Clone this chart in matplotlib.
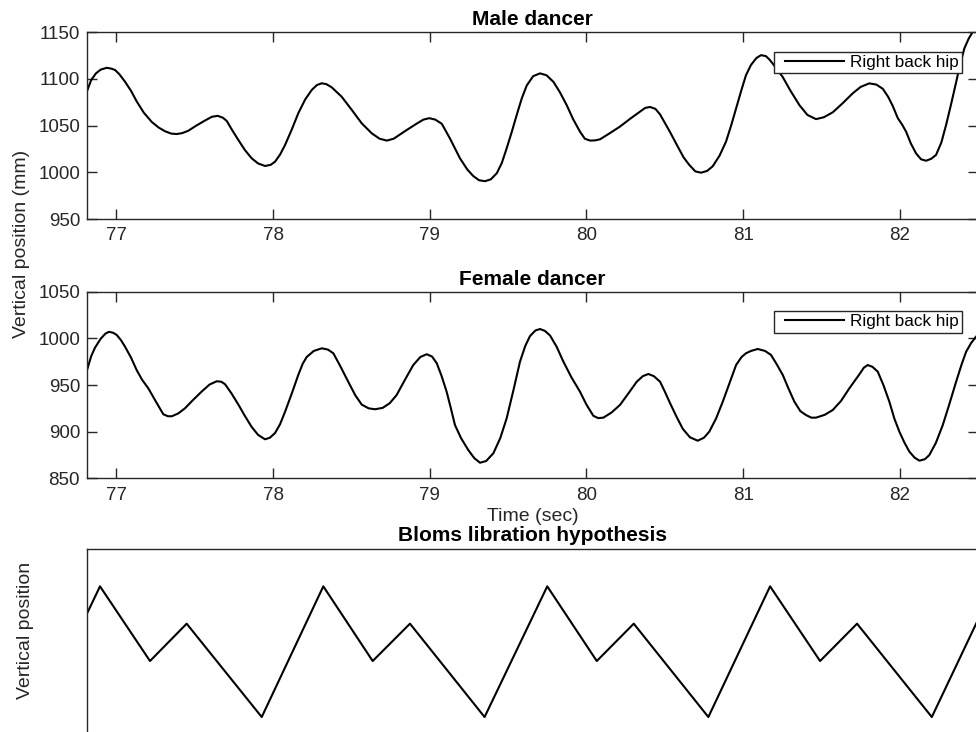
import matplotlib.pyplot as plt
from matplotlib.legend_handler import HandlerLine2D

plt.rcParams['font.family'] = ['Liberation Sans', 'DejaVu Sans']

# Male dancer, right back hip (time in s, vertical position in mm)
male_t = [76.813, 76.840, 76.870, 76.900, 76.939, 76.970, 76.992, 77.020, 77.056,
          77.095, 77.130, 77.175, 77.226, 77.270, 77.311, 77.350, 77.385, 77.420,
          77.459, 77.510, 77.566, 77.610, 77.647, 77.680, 77.705, 77.740, 77.779,
          77.820, 77.864, 77.905, 77.949, 77.985, 78.013, 78.045, 78.077, 78.120,
          78.161, 78.205, 78.247, 78.280, 78.311, 78.340, 78.375, 78.438, 78.502,
          78.566, 78.630, 78.680, 78.726, 78.770, 78.810, 78.853, 78.920, 78.960,
          78.997, 79.035, 79.077, 79.130, 79.193, 79.240, 79.278, 79.315, 79.353,
          79.390, 79.428, 79.460, 79.491, 79.523, 79.555, 79.587, 79.619, 79.660,
          79.704, 79.745, 79.789, 79.830, 79.874, 79.915, 79.959, 79.990, 80.023,
          80.055, 80.087, 80.150, 80.214, 80.280, 80.342, 80.375, 80.406, 80.440,
          80.470, 80.500, 80.534, 80.575, 80.620, 80.657, 80.695, 80.731, 80.770,
          80.806, 80.850, 80.891, 80.925, 80.955, 80.987, 81.018, 81.050, 81.085,
          81.114, 81.145, 81.167, 81.210, 81.253, 81.300, 81.359, 81.410, 81.465,
          81.515, 81.572, 81.635, 81.699, 81.750, 81.805, 81.850, 81.891, 81.925,
          81.955, 81.987, 82.015, 82.040, 82.070, 82.103, 82.135, 82.167, 82.200,
          82.231, 82.265, 82.295, 82.327, 82.359, 82.385, 82.412, 82.440, 82.466,
          82.500]
male_y = [1087, 1099, 1106, 1110, 1112, 1111, 1109.6, 1105, 1097,
          1087, 1076, 1064, 1054, 1048, 1044, 1041.5, 1041, 1042,
          1044.5, 1050, 1055.5, 1059.5, 1060.5, 1058.5, 1055, 1045, 1034.6,
          1024, 1015, 1009.5, 1006.8, 1008, 1011.4, 1019, 1029.3, 1046,
          1063.2, 1078, 1088.2, 1093.5, 1095.4, 1094.5, 1091, 1081, 1067,
          1052.5, 1041.8, 1036, 1034, 1036, 1040.5, 1045.3, 1052.5, 1056.5,
          1058, 1056.5, 1052, 1036, 1015, 1003, 996, 991.5, 990.5,
          992.5, 999, 1010, 1025.7, 1043, 1061.4, 1079, 1093, 1103,
          1106, 1104, 1097, 1086, 1072, 1057, 1043.5, 1036, 1034,
          1034.2, 1035.4, 1042, 1049, 1057.5, 1065, 1069, 1070, 1068,
          1062, 1053, 1043, 1030, 1016, 1007.8, 1001, 999.6, 1001.5,
          1006.5, 1018, 1033, 1051, 1068.6, 1087, 1104, 1115, 1122.5,
          1125.5, 1124.5, 1121, 1112, 1102, 1088, 1072, 1061.5, 1057,
          1059, 1064.3, 1074, 1084.6, 1091.5, 1095.3, 1094, 1089.5, 1081,
          1071, 1058, 1051, 1043.5, 1031, 1020.4, 1014, 1012.4, 1014.5,
          1018.6, 1032, 1050.7, 1073, 1096.4, 1116, 1132.9, 1143.5, 1150.6,
          1160]

# Female dancer, right back hip
female_t = [76.813, 76.840, 76.864, 76.900, 76.930, 76.953, 76.980, 77.003, 77.030,
            77.056, 77.095, 77.130, 77.165, 77.204, 77.250, 77.300, 77.330, 77.354,
            77.395, 77.438, 77.490, 77.545, 77.595, 77.641, 77.670, 77.694, 77.735,
            77.779, 77.820, 77.864, 77.905, 77.949, 77.980, 78.013, 78.045, 78.077,
            78.120, 78.161, 78.190, 78.215, 78.260, 78.311, 78.350, 78.385, 78.430,
            78.480, 78.525, 78.566, 78.610, 78.651, 78.700, 78.745, 78.789, 78.840,
            78.895, 78.940, 78.981, 79.015, 79.045, 79.075, 79.108, 79.135, 79.161,
            79.200, 79.246, 79.285, 79.321, 79.360, 79.406, 79.450, 79.491, 79.535,
            79.576, 79.610, 79.640, 79.675, 79.704, 79.735, 79.768, 79.810, 79.853,
            79.905, 79.959, 80.000, 80.044, 80.075, 80.108, 80.160, 80.214, 80.270,
            80.321, 80.360, 80.395, 80.430, 80.470, 80.500, 80.534, 80.575, 80.615,
            80.660, 80.710, 80.750, 80.784, 80.827, 80.870, 80.915, 80.955, 80.990,
            81.018, 81.050, 81.093, 81.140, 81.178, 81.215, 81.253, 81.290, 81.327,
            81.365, 81.401, 81.435, 81.465, 81.520, 81.572, 81.625, 81.678, 81.740,
            81.770, 81.795, 81.825, 81.859, 81.895, 81.933, 81.965, 81.997, 82.030,
            82.061, 82.095, 82.125, 82.160, 82.188, 82.230, 82.274, 82.315, 82.359,
            82.395, 82.423, 82.455, 82.486, 82.500]
female_y = [966, 981, 990, 999.5, 1005, 1007, 1006, 1003.6, 998,
            991, 979, 966, 955.5, 946.5, 933, 918.6, 916.5, 916.5,
            919.5, 925, 934, 943, 950.5, 954, 953.5, 950.8, 941,
            929, 917, 905, 896.5, 891.8, 893.5, 898.5, 908, 921.4,
            941, 960.7, 973, 980, 986.5, 989.3, 988, 984, 970,
            953.5, 939, 929, 925, 924, 925.5, 930.5, 939.3, 955,
            971.4, 980, 983, 980.5, 973.3, 960, 942.8, 925, 907.1,
            893, 880.3, 871.5, 866.7, 868.5, 876.8, 893, 914.3, 945,
            975, 992, 1002.5, 1008.5, 1010, 1008, 1003, 991, 975,
            958, 942.8, 929, 917, 914.5, 915, 920.5, 928.6, 941.5,
            953.5, 959.5, 961.8, 959.5, 953.5, 943, 930.4, 916, 903,
            894, 890.3, 893.5, 900, 914, 932.1, 953, 971.4, 980,
            984, 986.5, 988.6, 986.5, 982.2, 972, 960.7, 946, 932.1,
            922, 917.8, 915, 915, 918, 923.2, 933, 946.5, 961,
            968.5, 971.4, 969.5, 964.3, 950, 932.1, 914, 900, 888,
            878.5, 872, 868.9, 870.5, 874.9, 888, 907.1, 929, 953.5,
            972.5, 985.7, 995, 1001.8, 1004]

# Bloms libration hypothesis (arbitrary units)
bloom_t = [76.497, 76.896, 77.215, 77.449, 77.928, 78.321, 78.636, 78.874, 79.350,
           79.750, 80.066, 80.302, 80.778, 81.172, 81.491, 81.727, 82.204, 82.600]
bloom_y = [1, 8, 4, 6, 1, 8, 4, 6, 1, 8, 4, 6, 1, 8, 4, 6, 1, 8]

xticks = [77, 78, 79, 80, 81, 82]
male_yticks = [950, 1000, 1050, 1100, 1150]
female_yticks = [850, 900, 950, 1000, 1050]

axcol = '#262626'
fig = plt.figure(figsize=(9.76, 7.32), dpi=100)
W, H = 976.0, 732.0


def make_ax(top_px, bot_px):
    return fig.add_axes([87 / W, 1 - bot_px / H, 891.2 / W, (bot_px - top_px) / H])


def style(ax):
    for s in ax.spines.values():
        s.set_color(axcol)
        s.set_linewidth(1.0)
    ax.tick_params(direction='in', top=True, right=True, length=7, width=1.0,
                   colors=axcol, labelsize=13.5)
    ax.tick_params(axis='y', pad=5)
    ax.tick_params(axis='x', pad=6)
    ax.set_xlim(76.813, 82.5)


ax1 = make_ax(32.3, 219.0)
ax1.plot(male_t, male_y, color='black', lw=1.5, label='Right back hip')
style(ax1)
ax1.set_ylim(950, 1150)
ax1.set_yticks(male_yticks)
ax1.set_xticks(xticks)
ax1.set_title('Male dancer', fontsize=15, fontweight='bold', pad=5.5)

ax2 = make_ax(291.7, 478.3)
ax2.plot(female_t, female_y, color='black', lw=1.5, label='Right back hip')
style(ax2)
ax2.set_ylim(850, 1050)
ax2.set_yticks(female_yticks)
ax2.set_xticks(xticks)
ax2.set_title('Female dancer', fontsize=15, fontweight='bold', pad=5)
ax2.set_xlabel('Time (sec)', fontsize=14, color=axcol, labelpad=3)

for ax in (ax1, ax2):
    leg = ax.legend(loc='upper right', bbox_to_anchor=(0.9815, 0.897),
                    borderaxespad=0, fancybox=False, framealpha=1,
                    edgecolor=axcol, fontsize=12.3, handlelength=3.9,
                    borderpad=0.2, handletextpad=0.35,
                    handler_map={plt.Line2D: HandlerLine2D(xpad=0.5)})
    leg.get_frame().set_linewidth(1.0)

ax3 = make_ax(549.0, 735.7)
ax3.plot(bloom_t, bloom_y, color='black', lw=1.5)
for s in ax3.spines.values():
    s.set_color(axcol)
    s.set_linewidth(1.0)
ax3.set_xlim(76.813, 82.5)
ax3.set_ylim(0, 10)
ax3.set_xticks([])
ax3.set_yticks([])
ax3.set_title('Bloms libration hypothesis', fontsize=15, fontweight='bold', pad=5.5)

fig.text(22 / W, 1 - 244 / H, 'Vertical position (mm)', rotation=90,
         ha='center', va='center', fontsize=14, color=axcol)
fig.text(26 / W, 1 - 630 / H, 'Vertical position', rotation=90,
         ha='center', va='center', fontsize=14, color=axcol)

fig.savefig('out.png', dpi=100)
